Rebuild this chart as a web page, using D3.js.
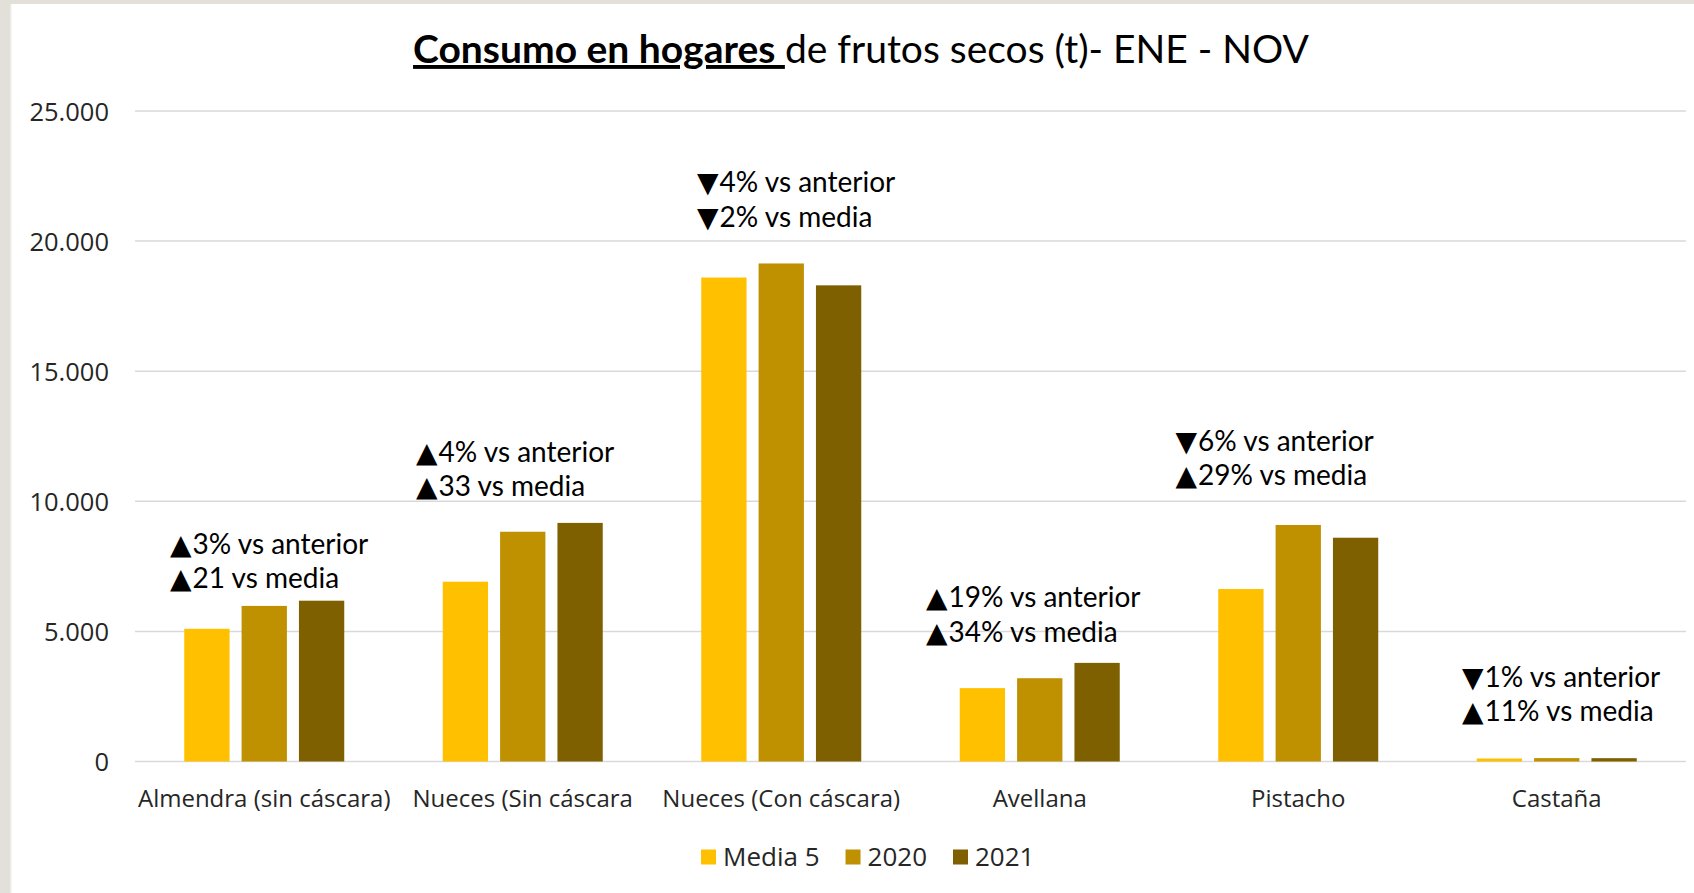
<!DOCTYPE html>
<html>
<head>
<meta charset="utf-8">
<script src="https://cdn.jsdelivr.net/npm/d3@7"></script>
<style>
  html, body { margin: 0; padding: 0; background: #ffffff; }
  svg { display: block; }
  text { white-space: pre; }
</style>
</head>
<body>
<svg id="chart" width="1694" height="893"></svg>
<script>
// Consumo en hogares de frutos secos (toneladas), enero-noviembre
const categories = ["Almendra (sin cáscara)", "Nueces (Sin cáscara", "Nueces (Con cáscara)", "Avellana", "Pistacho", "Castaña"];
const seriesNames = ["Media 5", "2020", "2021"];
const media5 = [5100, 6910, 18600, 2820, 6630, 115];
const y2020 = [5980, 8830, 19140, 3200, 9090, 130];
const y2021 = [6180, 9170, 18300, 3790, 8600, 128];
const yTicks = [0, 5000, 10000, 15000, 20000, 25000];

// Variation notes per category: [arrow, text]
const noteAnterior = [["▲", "3% vs anterior"], ["▲", "4% vs anterior"], ["▼", "4% vs anterior"], ["▲", "19% vs anterior"], ["▼", "6% vs anterior"], ["▼", "1% vs anterior"]];
const noteMedia = [["▲", "21 vs media"], ["▲", "33 vs media"], ["▼", "2% vs media"], ["▲", "34% vs media"], ["▲", "29% vs media"], ["▲", "11% vs media"]];

// Layout
const colors = ["#FFC000", "#BF9000", "#7F6000"];
const plot = { left: 135, right: 1686, top: 111, bottom: 761.5 };
const noteDx = [35, 22.5, 45, 15.5, 6.5, 34.5];   // offset from band start
const noteDy = [47, 61, 71, 55.5, 74, 71.5];       // first baseline above tallest bar
const lineGap = 34.5;

const svg = d3.select("#chart");

// Frame strips
svg.append("rect").attr("x", 0).attr("y", 0).attr("width", 1694).attr("height", 893).attr("fill", "#ffffff");
svg.append("rect").attr("x", 0).attr("y", 0).attr("width", 1694).attr("height", 4).attr("fill", "#e3e0d9");
svg.append("rect").attr("x", 0).attr("y", 0).attr("width", 10).attr("height", 893).attr("fill", "#e3e0d9");
svg.append("rect").attr("x", 10).attr("y", 4).attr("width", 1.5).attr("height", 889).attr("fill", "#eeece7");

const data = categories.map((c, i) => ({ cat: c, i, values: [media5[i], y2020[i], y2021[i]] }));

const x0 = d3.scaleBand().domain(categories).range([plot.left, plot.right]).paddingInner(0).paddingOuter(0);
const groupW = 160;
const x1 = d3.scaleBand().domain(seriesNames).range([0, groupW]).paddingInner(0.21).paddingOuter(0);
const y = d3.scaleLinear().domain([0, 25000]).range([plot.bottom, plot.top]);

const esLocale = d3.formatLocale({ decimal: ",", thousands: ".", grouping: [3], currency: ["", " €"] });
const fmt = esLocale.format(",.0f");

// Gridlines
svg.append("g")
  .selectAll("line").data(yTicks).join("line")
  .attr("x1", plot.left).attr("x2", plot.right)
  .attr("y1", d => y(d)).attr("y2", d => y(d))
  .attr("stroke", "#d9d9d9").attr("stroke-width", 1.5);

// Y axis labels
const yAxis = d3.axisLeft(y).tickValues(yTicks).tickFormat(fmt).tickSize(0).tickPadding(0);
const gy = svg.append("g").attr("transform", "translate(109,0)").call(yAxis);
gy.select(".domain").remove();
gy.selectAll("text")
  .attr("font-family", "'Open Sans', sans-serif").attr("font-size", 25.5)
  .attr("fill", "#262626").attr("dy", "0.36em");

// Bars
const groups = svg.append("g").selectAll("g").data(data).join("g")
  .attr("transform", d => `translate(${x0(d.cat) + x0.bandwidth() / 2 - groupW / 2},0)`);
groups.selectAll("rect")
  .data(d => d.values.map((v, k) => ({ key: seriesNames[k], v, k })))
  .join("rect")
  .attr("x", d => x1(d.key))
  .attr("width", x1.bandwidth())
  .attr("y", d => y(d.v))
  .attr("height", d => y(0) - y(d.v))
  .attr("fill", d => colors[d.k]);

// X axis labels
const xAxis = d3.axisBottom(x0).tickSize(0).tickPadding(0);
const gx = svg.append("g").attr("transform", `translate(0,${plot.bottom})`).call(xAxis);
gx.select(".domain").remove();
gx.selectAll("text")
  .attr("font-family", "'Open Sans', sans-serif").attr("font-size", 24)
  .attr("fill", "#262626").attr("y", 45).attr("dy", 0);

// Variation notes
const notes = svg.append("g").attr("font-family", "Lato, 'Liberation Sans', sans-serif").attr("font-size", 28).attr("fill", "#000");
data.forEach((d, i) => {
  const top = y(d3.max(d.values));
  const xStart = x0(d.cat) + noteDx[i];
  const yBase = top - noteDy[i];
  [noteAnterior[i], noteMedia[i]].forEach((n, j) => {
    const t = notes.append("text").attr("x", xStart).attr("y", yBase + j * lineGap);
    t.append("tspan").attr("font-family", "'DejaVu Sans', sans-serif").attr("font-size", 28).text(n[0]);
    t.append("tspan").attr("dx", 1).text(n[1]);
  });
});

// Title
const title = svg.append("text")
  .attr("x", 861).attr("y", 63)
  .attr("text-anchor", "middle")
  .attr("font-family", "Lato, 'Liberation Sans', sans-serif").attr("font-size", 39)
  .attr("fill", "#000");
title.append("tspan").attr("font-weight", "bold").attr("text-decoration", "underline").text("Consumo en hogares ");
title.append("tspan").text("de frutos secos (t)- ENE - NOV");

// Legend
const legendItems = seriesNames.map((s, k) => ({ s, k }));
const legend = svg.append("g").attr("transform", "translate(701,857)");
let lx = 0;
legendItems.forEach(it => {
  const g = legend.append("g").attr("transform", `translate(${lx},0)`);
  g.append("rect").attr("x", 0).attr("y", -7.5).attr("width", 15).attr("height", 15).attr("fill", colors[it.k]);
  const t = g.append("text").attr("x", 22).attr("y", 0).attr("dy", "0.36em")
    .attr("font-family", "'Open Sans', sans-serif").attr("font-size", 26).attr("fill", "#262626").text(it.s);
  lx += 22 + t.node().getComputedTextLength() + 26;
});
</script>
</body>
</html>
